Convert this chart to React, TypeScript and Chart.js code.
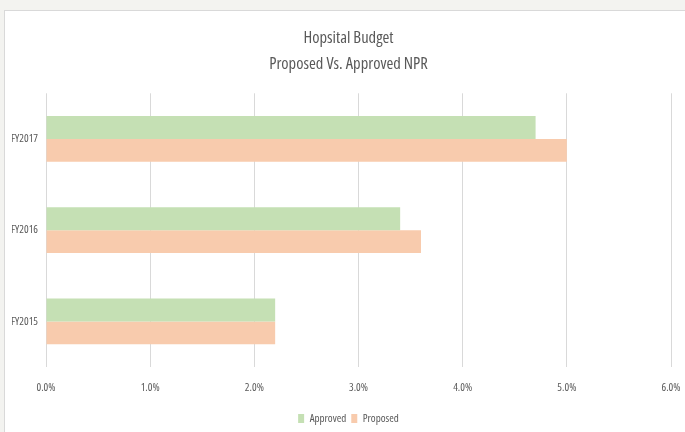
import React, { useEffect, useRef } from "react";
import { Chart, registerables } from "chart.js";

Chart.register(...registerables);

const categories = ["FY2017", "FY2016", "FY2015"];
const approved = [4.7, 3.4, 2.2];
const proposed = [5.0, 3.6, 2.2];
const titleLines = ["Hopsital Budget", "Proposed Vs. Approved NPR"];

const FONT = "'Open Sans', 'Roboto Condensed', sans-serif";
const STRETCH = "condensed";
const TEXT = "#595959";

export default function App() {
  const ref = useRef<HTMLCanvasElement | null>(null);

  useEffect(() => {
    if (!ref.current) return;
    const chart = new Chart(ref.current, {
      type: "bar",
      data: {
        labels: categories,
        datasets: [
          {
            label: "Approved",
            data: approved,
            backgroundColor: "#C5E0B4",
            borderWidth: 0,
            categoryPercentage: 0.5,
            barPercentage: 1.0,
          },
          {
            label: "Proposed",
            data: proposed,
            backgroundColor: "#F8CBAD",
            borderWidth: 0,
            categoryPercentage: 0.5,
            barPercentage: 1.0,
          },
        ],
      },
      options: {
        indexAxis: "y",
        animation: false,
        responsive: false,
        layout: { padding: { top: 25, left: 12, right: 0, bottom: -2 } },
        plugins: {
          title: {
            display: true,
            text: titleLines,
            color: TEXT,
            font: { family: FONT, size: 16.5, weight: STRETCH as any, lineHeight: 1.6 },
            padding: { top: 0, bottom: 15.5 },
          },
          legend: {
            position: "bottom",
            labels: {
              color: TEXT,
              font: { family: FONT, size: 11, weight: STRETCH as any },
              boxWidth: 6,
              boxHeight: 9,
              padding: 5,
            },
          },
          tooltip: { enabled: false },
        },
        scales: {
          x: {
            min: 0,
            max: 6,
            ticks: {
              stepSize: 1,
              color: TEXT,
              font: { family: FONT, size: 11, weight: STRETCH as any },
              padding: 14,
              callback: (v: any) => Number(v).toFixed(1) + "%",
            },
            grid: { color: "#D9D9D9", drawTicks: false },
            border: { display: false },
            afterFit: (axis: any) => {
              axis.height = 41;
              axis.paddingRight = 14;
            },
          },
          y: {
            ticks: {
              color: TEXT,
              font: { family: FONT, size: 11, weight: STRETCH as any },
              padding: 8,
            },
            grid: { display: false, drawTicks: false },
            border: { display: false },
            afterFit: (axis: any) => {
              axis.width = 34;
            },
          },
        },
      },
    });
    return () => chart.destroy();
  }, []);

  return (
    <div style={{ position: "absolute", left: 0, top: 0, width: 685, height: 432, background: "#F3F3F0", overflow: "hidden" }}>
      <div
        style={{
          position: "absolute",
          left: 4,
          top: 10,
          width: 690,
          height: 430,
          background: "#FFFFFF",
          border: "1px solid #D9D9D9",
          boxSizing: "border-box",
        }}
      />
      <canvas ref={ref} width={685} height={432} style={{ position: "absolute", left: 0, top: 0 }} />
    </div>
  );
}
